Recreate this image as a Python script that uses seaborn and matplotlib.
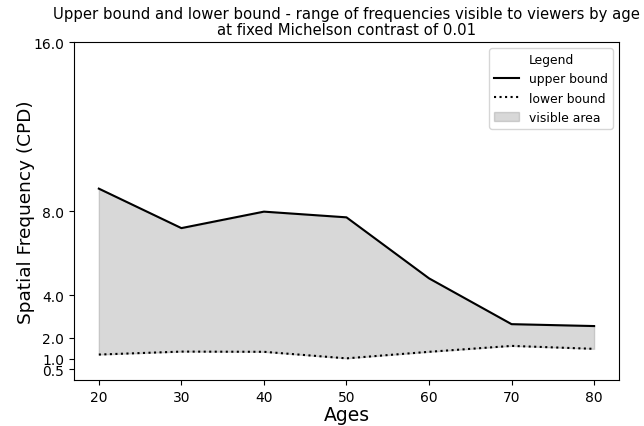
import matplotlib
matplotlib.use("Agg")
import matplotlib.pyplot as plt
import seaborn as sns
import pandas as pd

ages = [20, 30, 40, 50, 60, 70, 80]
upper_bound = [9.06, 7.19, 7.97, 7.70, 4.81, 2.64, 2.55]
lower_bound = [1.20, 1.34, 1.33, 1.02, 1.33, 1.61, 1.47]
y_ticks = [0.5, 1.0, 2.0, 4.0, 8.0, 16.0]

df = pd.DataFrame({"age": ages, "upper": upper_bound, "lower": lower_bound})

fig, ax = plt.subplots(figsize=(6.44, 4.27), dpi=100)

sns.lineplot(data=df, x="age", y="upper", color="black", label="upper bound", ax=ax)
sns.lineplot(data=df, x="age", y="lower", color="black", linestyle=":", label="lower bound", ax=ax)
ax.fill_between(df["age"], df["lower"], df["upper"], color="grey", alpha=0.3, label="visible area")

ax.set_ylim(0, 16)
ax.set_yticks(y_ticks)
ax.set_yticklabels([f"{t:.1f}" for t in y_ticks])
ax.set_title("Upper bound and lower bound - range of frequencies visible to viewers by age\n"
             "at fixed Michelson contrast of 0.01", fontsize=10.7, linespacing=1.1)
ax.set_xlabel("Ages", fontsize=13.5, labelpad=1)
ax.set_ylabel("Spatial Frequency (CPD)", fontsize=13.3, labelpad=-1)
ax.legend(title="Legend", loc="upper right", fontsize=8.9, title_fontsize=8.9)

fig.subplots_adjust(left=0.115, right=0.961, top=0.899, bottom=0.108)
fig.savefig("out.png", dpi=100)
